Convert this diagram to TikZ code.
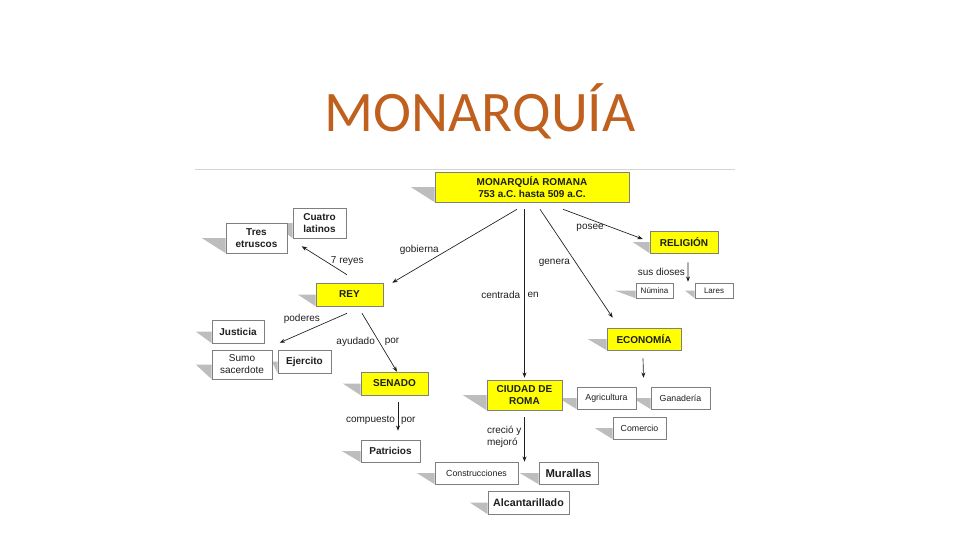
\documentclass[tikz,border=0pt]{standalone}
\usepackage{fontspec}
\setmainfont{Carlito}
\newfontfamily\arialf{Liberation Sans}
\usetikzlibrary{positioning, arrows.meta, calc, backgrounds}
\definecolor{titlebrown}{HTML}{C0601E}
\definecolor{boxyellow}{HTML}{FFFF00}
\definecolor{shgray}{HTML}{BDBDBD}
\definecolor{edgegray}{HTML}{7F7F7F}
\definecolor{inkgray}{HTML}{1E1E1E}
\definecolor{rulegray}{HTML}{D4D4D4}
\tikzset{sz/.style n args={2}{minimum width=#1*0.75pt, minimum height=#2*0.75pt}}

\begin{document}
\begin{tikzpicture}[x=0.75pt, y=-0.75pt, >={Stealth[length=4pt, width=3pt]},
  every node/.append style={font=\arialf\fontsize{7.5}{9}\selectfont, text=inkgray},
  yb/.style={draw=edgegray, fill=boxyellow, align=center, inner sep=1pt, font=\arialf\bfseries\fontsize{7.5}{9}\selectfont},
  wb/.style={draw=edgegray, fill=white, align=center, inner sep=1pt},
  bf/.style={font=\arialf\bfseries\fontsize{7.5}{9}\selectfont},
  sm/.style={font=\arialf\fontsize{6.6}{8}\selectfont},
  lbl/.style={inner sep=1pt},
  conn/.style={draw=inkgray, line width=0.5pt}]
  \useasboundingbox (0,0) rectangle (960,540);

  % title and rule
  \node[font=\rmfamily\fontsize{43}{50}\selectfont, text=titlebrown, anchor=base] (title) at (480,131) {MONARQUÍA};
  \draw[rulegray, line width=0.7pt] (195,169) -- (735,169);

  % yellow concepts
  \node[yb, sz={194}{30}] (mr)  at (532,187)   {MONARQUÍA ROMANA\\753 a.C. hasta 509 a.C.};
  \node[yb, sz={68}{22}]  (rel) at (684,242)   {RELIGIÓN};
  \node[yb, sz={67}{23}]  (rey) at (349.5,294.5) {REY};
  \node[yb, sz={74}{22}]  (eco) at (644,339)   {ECONOMÍA};
  \node[yb, sz={67}{23}]  (sen) at (394.5,383.5) {SENADO};
  \node[yb, sz={75}{30}]  (cr)  at (524.5,395) {CIUDAD DE\\ROMA};

  % white boxes
  \node[wb, sm, sz={37}{15}, font=\arialf\fontsize{6}{7}\selectfont] (num) at (654.5,290.5) {Númina};
  \node[wb, sm, sz={38}{15}, font=\arialf\fontsize{6}{7}\selectfont] (lar) at (714,290.5)   {Lares};
  \node[wb, bf, sz={53}{30}]  (cl)   at (319.5,223)   {Cuatro\\latinos};
  \node[wb, bf, sz={61}{30}]  (te)   at (256.5,238)   {Tres\\etruscos};
  \node[wb, bf, sz={52}{23}]  (jus)  at (238,331.5)   {Justicia};
  \node[wb, sz={60}{29}]      (sumo) at (242,364.5)   {Sumo\\sacerdote};
  \node[wb, bf, sz={53}{23}]  (ej)   at (304.5,361.5) {Ejercito};
  \node[wb, bf, sz={59}{22}]  (pat)  at (390.5,451)   {Patricios};
  \node[wb, sm, sz={59}{22}]  (agr)  at (606.5,398)   {Agricultura};
  \node[wb, sm, sz={59}{22}]  (gan)  at (680.5,398)   {Ganadería};
  \node[wb, sm, sz={53}{22}]  (com)  at (639.5,428)   {Comercio};
  \node[wb, sm, sz={83}{22}]  (cons) at (476.5,473)   {Construcciones};
  \node[wb, bf, sz={59}{22}, font=\arialf\bfseries\fontsize{8.5}{10}\selectfont] (mur) at (568.5,473) {Murallas};
  \node[wb, bf, sz={81}{23}, font=\arialf\bfseries\fontsize{8}{10}\selectfont]   (alc) at (528.5,502.5) {Alcantarillado};

  % shadows
  \begin{pgfonlayer}{background}
    \foreach \n/\d in {mr/24, rel/17, num/21, lar/10, cl/20, te/24, rey/18, jus/16, sumo/16, ej/6,
                       sen/18, pat/19, cr/24, eco/19, agr/18, gan/18, com/18, cons/18, mur/19, alc/18}
      \fill[shgray] ($(\n.west)+(-\d,0)$) -- (\n.west) -- (\n.south west) -- cycle;
  \end{pgfonlayer}

  % links
  \draw[conn, ->] ($(mr.south)+(-15,7)$) -- node[lbl, pos=.55, left=6pt] {gobierna} ($(rey.north east)+(9,0)$);
  \draw[conn, ->] ($(rey.north)+(-2.5,-8)$) -- node[lbl, pos=.48, right=3pt] {7 reyes} ($(cl.south west)+(9,8)$);
  \draw[conn, ->] ($(mr.south)+(31,7)$) -- node[lbl, pos=.34, below=2pt] {posee} ($(rel.west)+(-7,-3)$);
  \draw[conn, ->] ($(cr.north |- mr.south)+(0,7)$) -- node[lbl, pos=.51, left=2pt] {centrada}
    node[lbl, pos=.51, right=1pt] {en} ($(cr.north)+(0,-2)$);
  \draw[conn, ->] ($(mr.south)+(8,7)$) -- node[lbl, pos=.49, left=3pt] {genera} ($(eco.north west)+(6,-10)$);
  \draw[conn, ->] ($(rel.south)+(4,9)$) -- node[lbl, pos=.5, left=1pt] {sus dioses} ($(num.north east)!.5!(lar.north west)+(4,-1)$);
  \draw[conn, ->] ($(rey.south)+(-2.5,7)$) -- node[lbl, pos=.67, above=6pt] {poderes} ($(ej.north west)+(2,-7)$);
  \draw[conn, ->] ($(rey.south)+(12.5,7)$) -- node[lbl, pos=.49, left=2pt] {ayudado}
    node[lbl, pos=.49, right=3pt] {por} ($(sen.north)+(2.5,0)$);
  \draw[conn, ->] ($(sen.south)+(3.5,7)$) -- node[lbl, pos=.65, left=1pt] {compuesto}
    node[lbl, pos=.65, right=1pt] {por} ($(pat.north)+(7.5,-9)$);
  \draw[conn, ->] ($(eco.south)+(-1,8)$) -- ($(agr.north east)!.5!(gan.north west)+(0,-9)$);
  \draw[conn, ->] ($(cr.south)+(0,7)$) -- node[lbl, pos=.44, left=1pt, align=left] {creció y\\mejoró} (cr.south |- mur.north);
\end{tikzpicture}
\end{document}
